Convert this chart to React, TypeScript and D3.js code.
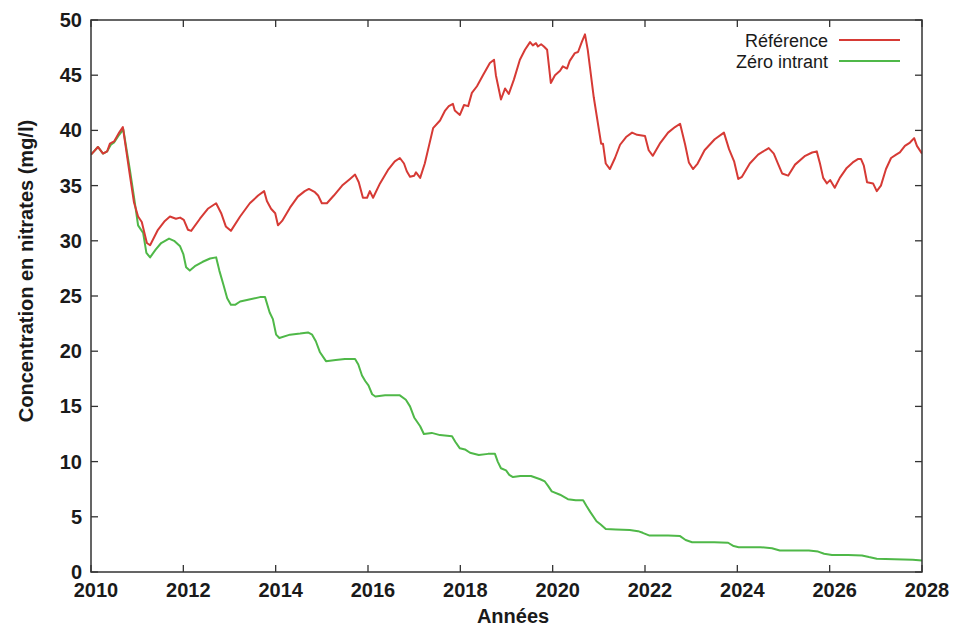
import React from "react";
import * as d3 from "d3";

const refYears = [2010.00,2010.15,2010.26,2010.35,2010.41,2010.50,2010.61,2010.69,2010.84,2010.93,2011.02,2011.10,2011.21,2011.28,2011.45,2011.60,2011.71,2011.84,2011.93,2012.01,2012.10,2012.17,2012.36,2012.53,2012.71,2012.82,2012.92,2013.03,2013.23,2013.44,2013.62,2013.75,2013.81,2013.90,2013.99,2014.05,2014.14,2014.31,2014.48,2014.63,2014.72,2014.85,2014.92,2015.00,2015.11,2015.26,2015.44,2015.61,2015.72,2015.80,2015.89,2015.98,2016.04,2016.11,2016.26,2016.43,2016.58,2016.69,2016.78,2016.84,2016.91,2017.00,2017.04,2017.13,2017.23,2017.32,2017.41,2017.56,2017.67,2017.75,2017.84,2017.88,2017.99,2018.08,2018.17,2018.25,2018.36,2018.49,2018.64,2018.73,2018.77,2018.88,2018.97,2019.05,2019.16,2019.29,2019.40,2019.51,2019.57,2019.64,2019.68,2019.75,2019.81,2019.88,2019.96,2020.05,2020.16,2020.22,2020.31,2020.37,2020.48,2020.55,2020.63,2020.70,2020.76,2020.89,2021.05,2021.09,2021.15,2021.24,2021.35,2021.46,2021.59,2021.72,2021.83,2022.00,2022.08,2022.17,2022.32,2022.50,2022.65,2022.76,2022.87,2022.95,2023.04,2023.14,2023.29,2023.51,2023.71,2023.82,2023.93,2024.02,2024.10,2024.27,2024.45,2024.60,2024.68,2024.79,2024.88,2024.97,2025.10,2025.25,2025.47,2025.62,2025.72,2025.79,2025.86,2025.94,2026.01,2026.11,2026.22,2026.37,2026.50,2026.61,2026.68,2026.74,2026.81,2026.94,2027.02,2027.11,2027.22,2027.33,2027.44,2027.52,2027.63,2027.74,2027.83,2027.89,2028.00];
const refValues = [37.8,38.5,37.9,38.1,38.8,39.0,39.8,40.3,36.0,33.5,32.2,31.7,29.8,29.6,31.0,31.8,32.2,32.0,32.1,31.9,31.0,30.9,32.0,32.9,33.4,32.5,31.3,30.9,32.2,33.4,34.1,34.5,33.6,32.9,32.5,31.4,31.8,33.0,34.0,34.5,34.7,34.4,34.1,33.4,33.4,34.1,35.0,35.6,36.0,35.3,33.9,33.9,34.5,33.9,35.2,36.4,37.2,37.5,37.0,36.3,35.8,35.9,36.2,35.7,37.0,38.6,40.2,40.9,41.8,42.2,42.4,41.8,41.4,42.3,42.2,43.4,44.0,45.0,46.1,46.4,45.0,42.8,43.8,43.3,44.6,46.4,47.3,48.0,47.7,47.9,47.6,47.8,47.6,47.3,44.3,45.0,45.4,45.8,45.6,46.3,47.0,47.1,48.0,48.7,47.3,43.0,38.8,38.8,37.0,36.5,37.5,38.7,39.4,39.8,39.6,39.5,38.2,37.7,38.8,39.8,40.3,40.6,38.7,37.1,36.5,37.0,38.2,39.2,39.8,38.3,37.2,35.6,35.8,37.0,37.8,38.2,38.4,37.9,37.0,36.1,35.9,36.9,37.7,38.0,38.1,37.0,35.7,35.2,35.5,34.8,35.7,36.6,37.1,37.4,37.4,36.8,35.3,35.2,34.5,35.0,36.5,37.5,37.8,38.0,38.6,38.9,39.3,38.6,37.9];

const zeroYears = [2010.00,2010.15,2010.26,2010.35,2010.43,2010.50,2010.61,2010.70,2010.84,2010.93,2011.02,2011.13,2011.20,2011.28,2011.40,2011.52,2011.69,2011.80,2011.93,2012.00,2012.06,2012.14,2012.25,2012.42,2012.58,2012.71,2012.78,2012.87,2012.95,2013.03,2013.12,2013.23,2013.45,2013.66,2013.77,2013.87,2013.94,2014.01,2014.08,2014.31,2014.53,2014.70,2014.79,2014.87,2014.96,2015.09,2015.30,2015.50,2015.72,2015.79,2015.87,2015.94,2016.01,2016.09,2016.16,2016.37,2016.69,2016.82,2016.91,2017.00,2017.13,2017.21,2017.38,2017.56,2017.82,2017.89,2017.99,2018.10,2018.21,2018.40,2018.60,2018.75,2018.81,2018.88,2018.99,2019.06,2019.14,2019.30,2019.53,2019.73,2019.83,2019.90,2019.98,2020.16,2020.33,2020.50,2020.66,2020.73,2020.82,2020.95,2021.04,2021.15,2021.37,2021.67,2021.85,2021.95,2022.10,2022.50,2022.76,2022.88,2023.02,2023.50,2023.80,2023.92,2024.03,2024.50,2024.75,2024.92,2025.20,2025.55,2025.75,2025.88,2026.05,2026.40,2026.70,2026.85,2027.02,2027.40,2027.80,2028.00];
const zeroValues = [37.8,38.5,37.9,38.1,38.7,38.9,39.6,40.1,36.5,34.0,31.4,30.7,28.9,28.5,29.2,29.8,30.2,30.0,29.5,28.8,27.6,27.3,27.7,28.1,28.4,28.5,27.3,26.0,24.8,24.2,24.2,24.5,24.7,24.9,24.9,23.5,22.9,21.5,21.2,21.5,21.6,21.7,21.5,20.9,19.9,19.1,19.2,19.3,19.3,18.8,17.8,17.3,16.9,16.1,15.9,16.0,16.0,15.6,15.0,14.0,13.2,12.5,12.6,12.4,12.3,11.8,11.2,11.1,10.8,10.6,10.7,10.7,10.0,9.4,9.2,8.8,8.6,8.7,8.7,8.4,8.2,7.8,7.3,7.0,6.6,6.5,6.5,6.0,5.4,4.6,4.3,3.9,3.85,3.8,3.7,3.55,3.3,3.3,3.25,2.9,2.7,2.7,2.65,2.35,2.25,2.25,2.15,1.95,1.95,1.95,1.85,1.65,1.55,1.55,1.5,1.35,1.2,1.15,1.12,1.05];

const xTicks = [2010, 2012, 2014, 2016, 2018, 2020, 2022, 2024, 2026, 2028];
const yTicks = [0, 5, 10, 15, 20, 25, 30, 35, 40, 45, 50];
const seriesNames = ["Référence", "Zéro intrant"];
const seriesColors = ["#d63a35", "#4fb848"];

export default function App() {
  const W = 955, H = 627;
  const left = 91, right = 922, top = 20, bottom = 572;
  const x = d3.scaleLinear().domain([2010, 2028]).range([left, right]);
  const y = d3.scaleLinear().domain([0, 50]).range([bottom, top]);
  const line = d3.line<[number, number]>().x(d => x(d[0])).y(d => y(d[1]));
  const refPts = refYears.map((t, i) => [t, refValues[i]] as [number, number]);
  const zeroPts = zeroYears.map((t, i) => [t, zeroValues[i]] as [number, number]);
  const font = "'Liberation Sans', Arial, sans-serif";
  const axisColor = "#333";
  const tl = 7;
  return (
    <svg width={W} height={H} style={{ position: "absolute", left: 0, top: 0, background: "#fff" }} fontFamily={font}>
      <rect x={0} y={0} width={W} height={H} fill="#fff" />
      <g clipPath="url(#plotclip)">
        <defs>
          <clipPath id="plotclip">
            <rect x={left} y={top} width={right - left} height={bottom - top} />
          </clipPath>
        </defs>
        <path d={line(zeroPts) || ""} fill="none" stroke={seriesColors[1]} strokeWidth={2} strokeLinejoin="round" />
        <path d={line(refPts) || ""} fill="none" stroke={seriesColors[0]} strokeWidth={2} strokeLinejoin="round" />
      </g>
      {xTicks.map(t => (
        <g key={"x" + t}>
          <line x1={x(t)} x2={x(t)} y1={bottom} y2={bottom - tl} stroke={axisColor} strokeWidth={1.3} />
          <line x1={x(t)} x2={x(t)} y1={top} y2={top + tl} stroke={axisColor} strokeWidth={1.3} />
          <text x={x(t) + 5} y={597} textAnchor="middle" fontSize={20} fontWeight="bold" fill="#1a1a1a">{t}</text>
        </g>
      ))}
      {yTicks.map(t => (
        <g key={"y" + t}>
          <line x1={left} x2={left + tl} y1={y(t)} y2={y(t)} stroke={axisColor} strokeWidth={1.3} />
          <line x1={right} x2={right - tl} y1={y(t)} y2={y(t)} stroke={axisColor} strokeWidth={1.3} />
          <text x={82} y={y(t) + 7} textAnchor="end" fontSize={20} fontWeight="bold" fill="#1a1a1a">{t}</text>
        </g>
      ))}
      <rect x={left} y={top} width={right - left} height={bottom - top} fill="none" stroke={axisColor} strokeWidth={1.5} />
      <text x={513} y={623} textAnchor="middle" fontSize={20} fontWeight="bold" fill="#1a1a1a">Années</text>
      <text transform={`translate(33,271) rotate(-90)`} textAnchor="middle" fontSize={20} fontWeight="bold" fill="#1a1a1a">Concentration en nitrates (mg/l)</text>
      {seriesNames.map((n, i) => (
        <g key={n}>
          <text x={828} y={47 + i * 21} textAnchor="end" fontSize={18} fill="#1a1a1a">{n}</text>
          <line x1={839} x2={900} y1={40 + i * 21} y2={40 + i * 21} stroke={seriesColors[i]} strokeWidth={2} />
        </g>
      ))}
    </svg>
  );
}
